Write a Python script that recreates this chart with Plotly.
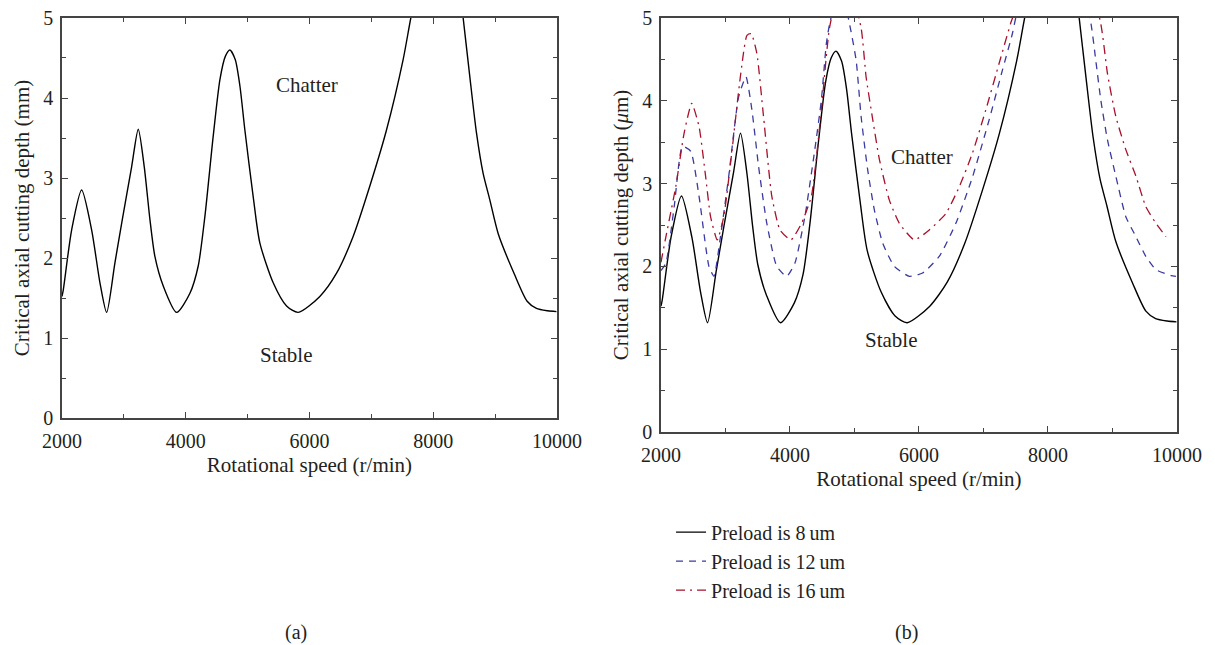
import plotly.graph_objects as go
from plotly.subplots import make_subplots

# Preload 8 um (same curve in both panels)
x8 = [2000, 2021, 2156, 2318, 2480, 2614, 2722, 2856, 2975, 3126, 3233, 3330, 3422, 3502, 3637, 3853, 4068, 4202,
      4310, 4444, 4553, 4640, 4714, 4800, 4876, 4956, 5090, 5198, 5414, 5630, 5818, 6168, 6438, 6706, 6976, 7245,
      7514, 7638, 7800, 8050, 8350, 8484, 8591, 8700, 8806, 8914, 9052, 9311, 9518, 9669, 9850, 9992]
y8 = [1.52, 1.60, 2.35, 2.85, 2.35, 1.69, 1.32, 1.94, 2.48, 3.14, 3.61, 3.14, 2.48, 2.02, 1.65, 1.32, 1.56, 1.90,
      2.52, 3.52, 4.23, 4.52, 4.60, 4.48, 4.15, 3.60, 2.77, 2.19, 1.69, 1.40, 1.32, 1.52, 1.81, 2.27, 2.90, 3.60,
      4.48, 5.00, 5.60, 6.20, 5.90, 5.00, 4.27, 3.56, 3.06, 2.73, 2.30, 1.80, 1.46, 1.37, 1.34, 1.33]

# Preload 12 um
x12 = [2000, 2077, 2205, 2333, 2462, 2590, 2744, 2821, 2923, 3051, 3205, 3318, 3410, 3513, 3641, 3795, 3949, 4077,
       4231, 4385, 4487, 4564, 4615, 4780, 4923, 5026, 5103, 5206, 5309, 5438, 5619, 5851, 6057, 6314, 6572, 6830,
       7088, 7294, 7448, 7500, 8050, 8653, 8741, 8819, 8922, 9052, 9207, 9363, 9518, 9674, 9907, 9984]
y12 = [1.95, 2.04, 2.72, 3.45, 3.39, 2.85, 2.00, 1.88, 2.36, 3.09, 4.05, 4.29, 3.89, 3.21, 2.52, 2.00, 1.88, 2.04,
       2.60, 3.41, 4.01, 4.69, 4.93, 5.40, 4.93, 4.49, 3.81, 3.16, 2.68, 2.28, 2.00, 1.88, 1.92, 2.12, 2.52, 3.08,
       3.77, 4.37, 4.81, 5.00, 6.50, 4.99, 4.49, 4.01, 3.53, 3.09, 2.60, 2.36, 2.12, 1.96, 1.89, 1.88]

# Preload 16 um
x16 = [2000, 2077, 2231, 2359, 2477, 2590, 2692, 2769, 2872, 2974, 3103, 3231, 3333, 3400, 3487, 3590, 3718, 3846,
       4015, 4179, 4333, 4487, 4615, 4850, 5103, 5180, 5284, 5387, 5541, 5696, 5928, 6160, 6418, 6624, 6830, 7036,
       7242, 7423, 7450, 8100, 8819, 8922, 9052, 9207, 9363, 9518, 9674, 9829]
y16 = [2.05, 2.36, 2.97, 3.61, 3.97, 3.69, 3.09, 2.60, 2.32, 2.60, 3.41, 4.29, 4.79, 4.81, 4.57, 3.81, 2.85, 2.44,
       2.32, 2.52, 2.85, 3.89, 4.89, 5.60, 4.88, 4.29, 3.77, 3.29, 2.80, 2.52, 2.32, 2.44, 2.64, 2.96, 3.37, 3.89,
       4.45, 4.94, 5.00, 7.00, 4.93, 4.33, 3.81, 3.41, 3.09, 2.72, 2.52, 2.36]

series_names = ["Preload is 8\u2009um", "Preload is 12\u2009um", "Preload is 16\u2009um"]
x_ticks = [2000, 4000, 6000, 8000, 10000]
x_tick_text = ["2000", "4000", "6000", "8000", "10000"]
y_ticks = [0, 1, 2, 3, 4, 5]

FONT = "Liberation Serif, Times New Roman, serif"
TXT = "#231f20"
fig = make_subplots(rows=1, cols=2)

fig.add_trace(go.Scatter(x=x8, y=y8, mode="lines", showlegend=False,
                         line=dict(color="black", width=1.4, shape="spline", smoothing=0.7)), row=1, col=1)
fig.add_trace(go.Scatter(x=x8, y=y8, mode="lines", name=series_names[0],
                         line=dict(color="black", width=1.4, shape="spline", smoothing=0.7)), row=1, col=2)
fig.add_trace(go.Scatter(x=x12, y=y12, mode="lines", name=series_names[1],
                         line=dict(color="#3a3aa0", width=1.3, dash="7px,6px", shape="spline", smoothing=0.5)), row=1, col=2)
fig.add_trace(go.Scatter(x=x16, y=y16, mode="lines", name=series_names[2],
                         line=dict(color="#a8102a", width=1.3, dash="9px,5px,2px,5px", shape="spline", smoothing=0.5)), row=1, col=2)

axis_common = dict(showline=True, linecolor="#444", linewidth=1.6, mirror="ticks", ticks="inside", ticklen=6,
                   tickwidth=1.4, tickcolor="#444", showgrid=False, zeroline=False, automargin=False,
                   tickfont=dict(family=FONT, size=20, color=TXT))
minor_x = dict(dtick=1000, ticks="inside", ticklen=4, tickwidth=1.2, tickcolor="#444", showgrid=False)
minor_y = dict(dtick=0.5, ticks="inside", ticklen=4, tickwidth=1.2, tickcolor="#444", showgrid=False)

fig.update_xaxes(**axis_common, range=[2000, 10000], tickvals=x_ticks, ticktext=x_tick_text, minor=minor_x,
                 ticklabelstandoff=4)
fig.update_yaxes(**axis_common, range=[0, 5], tickvals=y_ticks, minor=minor_y, ticklabelstandoff=3)

TFONT = dict(family=FONT, size=21, color=TXT)
fig.update_layout(
    width=1215, height=645, margin=dict(l=0, r=0, t=0, b=0, autoexpand=False),
    plot_bgcolor="white", paper_bgcolor="white",
    font=dict(family=FONT, size=20, color=TXT),
    xaxis=dict(domain=[0.0510, 0.4584], title=dict(text="Rotational speed (r/min)", font=TFONT, standoff=6)),
    yaxis=dict(domain=[0.3519, 0.9721], title=dict(text="Critical axial cutting depth (mm)", font=TFONT, standoff=8)),
    xaxis2=dict(domain=[0.5440, 0.9687], title=dict(text="Rotational speed (r/min)", font=TFONT, standoff=6)),
    yaxis2=dict(domain=[0.3302, 0.9721], title=dict(text="Critical axial cutting depth (<i>\u03bc</i>m)", font=TFONT, standoff=8)),
    legend=dict(x=0.5523, y=0.2053, xanchor="left", yanchor="top", font=dict(family=FONT, size=20, color=TXT),
                bgcolor="rgba(0,0,0,0)", tracegroupgap=0),
)

anns = [
    dict(x=5958, y=4.16, xref="x", yref="y", text="Chatter"),
    dict(x=5635, y=0.79, xref="x", yref="y", text="Stable"),
    dict(x=6047, y=3.32, xref="x2", yref="y2", text="Chatter"),
    dict(x=5581, y=1.11, xref="x2", yref="y2", text="Stable"),
]
for a in anns:
    fig.add_annotation(**a, showarrow=False, font=dict(family=FONT, size=21, color=TXT))
fig.add_annotation(x=296 / 1215, y=1 - 632 / 645, xref="paper", yref="paper", text="(a)", showarrow=False,
                   xanchor="center", yanchor="middle", font=dict(family=FONT, size=20, color=TXT))
fig.add_annotation(x=906 / 1215, y=1 - 632 / 645, xref="paper", yref="paper", text="(b)", showarrow=False,
                   xanchor="center", yanchor="middle", font=dict(family=FONT, size=20, color=TXT))

fig.write_html("out.html")
